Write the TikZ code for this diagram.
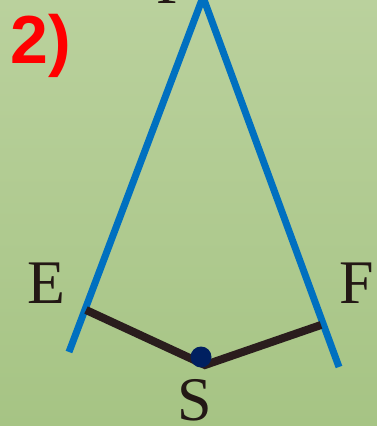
\documentclass[tikz,border=0pt]{standalone}
\usepackage{fontspec}
\setmainfont{Liberation Serif}
\newfontfamily\labelsans{Liberation Sans}
\begin{document}
\begin{tikzpicture}[x=1pt,y=-1pt,
  blueline/.style={draw={rgb,255:red,0;green,112;blue,192},line width=7pt},
  darkline/.style={draw={rgb,255:red,42;green,29;blue,29},line width=8pt},
  ptlabel/.style={inner sep=0pt,anchor=base,text={rgb,255:red,35;green,24;blue,21},font=\fontsize{62}{62}\selectfont}]
\definecolor{bgtop}{RGB}{186,209,157}
\definecolor{bgbot}{RGB}{166,196,132}
\definecolor{dotblue}{RGB}{0,32,96}
\useasboundingbox (0,0) rectangle (377,426);
\shade[top color=bgtop,bottom color=bgbot] (0,0) rectangle (377,426);
\begin{scope}
\clip (0,0) rectangle (377,426);
% apex and line ends
\coordinate (P) at (203,-3);
\coordinate (A) at (69,352);
\coordinate (B) at (339,367);
\coordinate (E) at (86,310);
\coordinate (F) at (321,325);
\coordinate (S) at (205,365);
\draw[blueline] (A) -- (P) -- (B);
\draw[darkline] (E) -- (S) -- (F);
\fill[dotblue] (201,357) circle (10.5);
\node[ptlabel,anchor=base west] (lp) at (156,3) {P};
\end{scope}
\node[ptlabel] (le) at (46,303) {E};
\node[ptlabel] (lf) at (357,303) {F};
\node[ptlabel] (ls) at (195,420) {S};
\node[inner sep=0pt,anchor=base west,text=red,font=\labelsans\bfseries\fontsize{68}{68}\selectfont] (num) at (10,63) {2)};
\end{tikzpicture}
\end{document}
